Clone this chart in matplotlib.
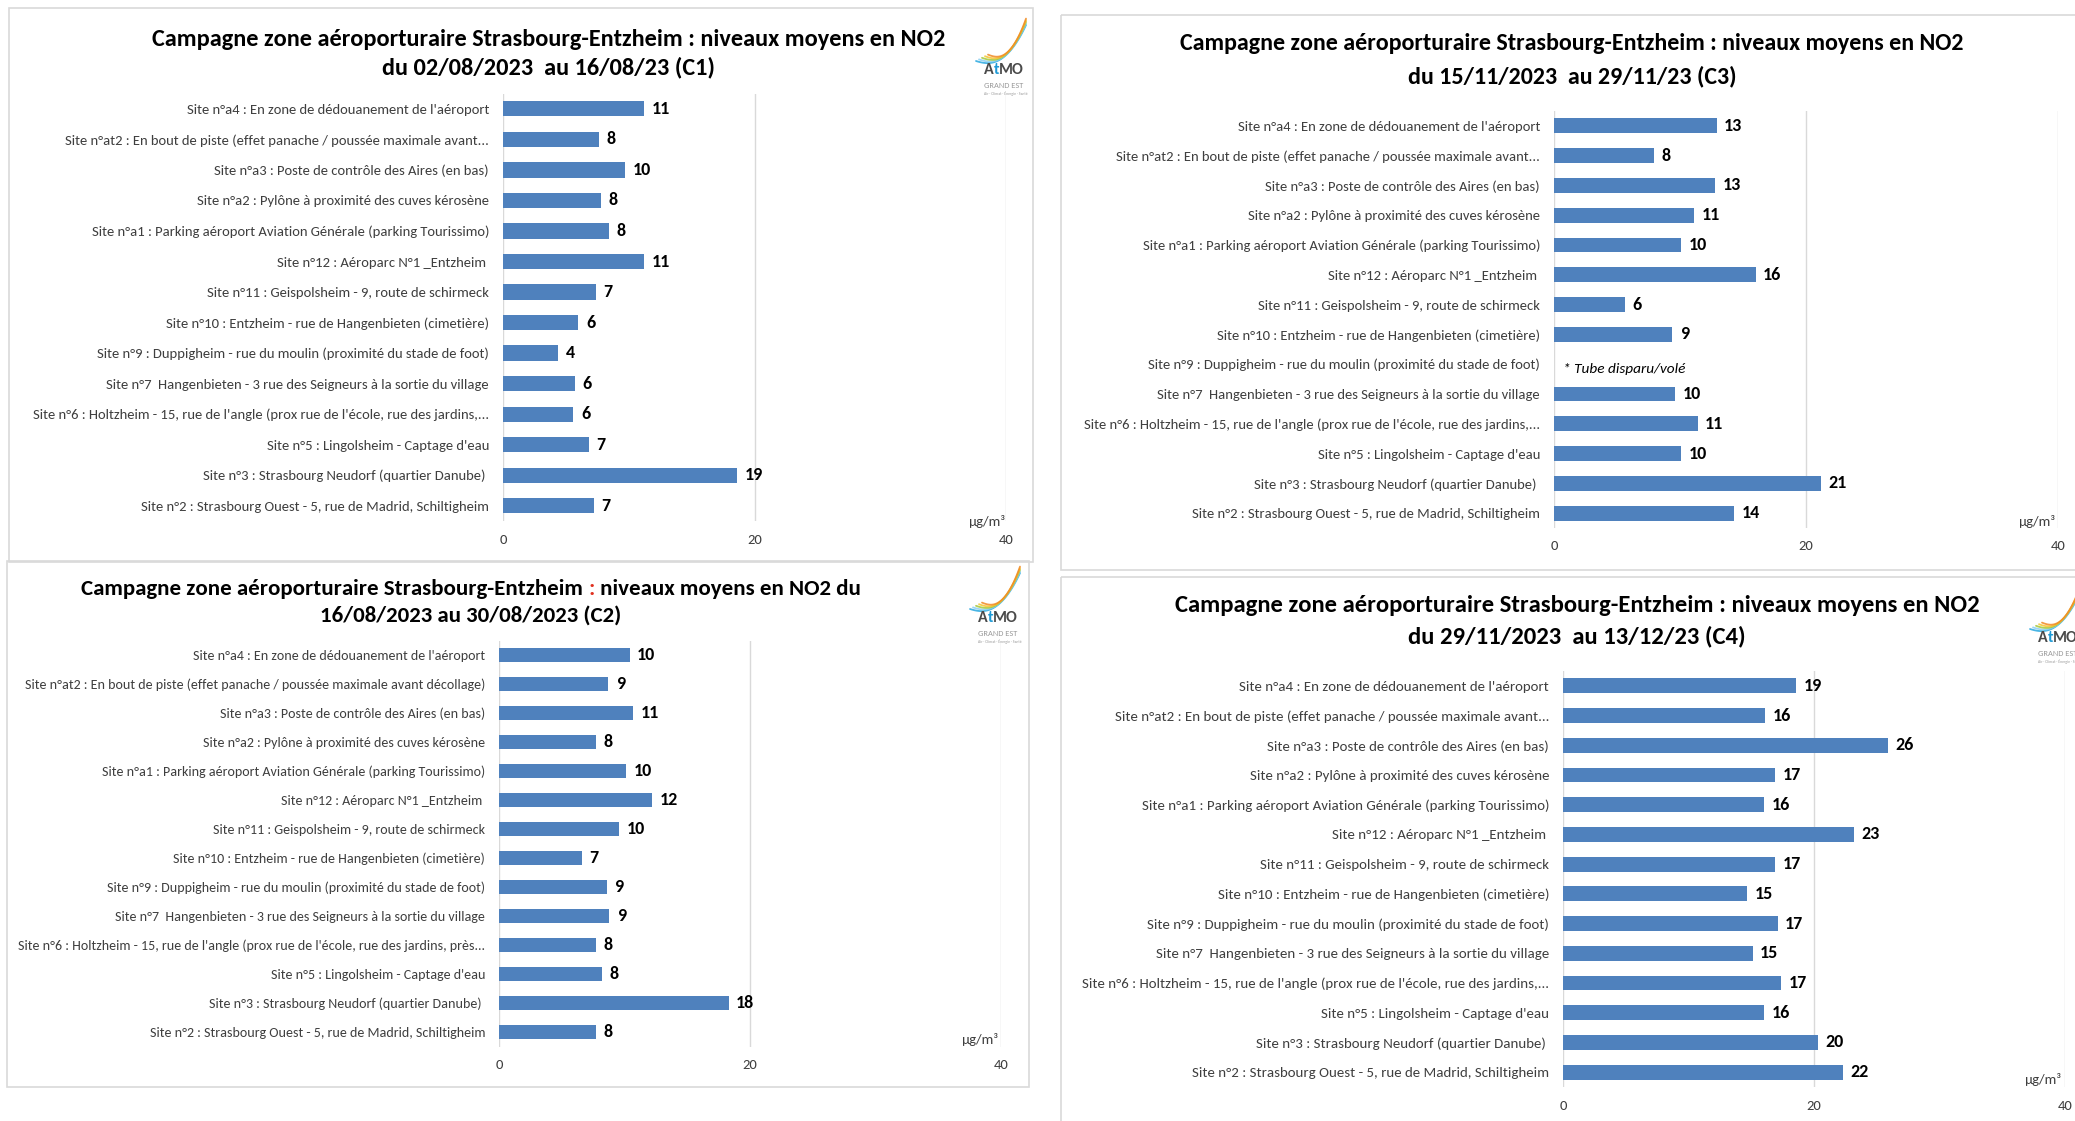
import numpy as np
import matplotlib
matplotlib.use("Agg")
import matplotlib.pyplot as plt
from matplotlib import font_manager
from matplotlib.patches import Rectangle

# FONT
names = {f.name for f in font_manager.fontManager.ttflist}
FONT = next(n for n in ['Carlito', 'Liberation Sans Narrow', 'Liberation Sans', 'DejaVu Sans'] if n in names)
plt.rcParams['font.family'] = [FONT, 'DejaVu Sans']

# DATA
labels = [
    "Site n°a4 : En zone de dédouanement de l'aéroport",
    "Site n°at2 : En bout de piste (effet panache / poussée maximale avant...",
    "Site n°a3 : Poste de contrôle des Aires (en bas)",
    "Site n°a2 : Pylône à proximité des cuves kérosène",
    "Site n°a1 : Parking aéroport Aviation Générale (parking Tourissimo)",
    "Site n°12 : Aéroparc N°1 _Entzheim ",
    "Site n°11 : Geispolsheim - 9, route de schirmeck",
    "Site n°10 : Entzheim - rue de Hangenbieten (cimetière)",
    "Site n°9 : Duppigheim - rue du moulin (proximité du stade de foot)",
    "Site n°7  Hangenbieten - 3 rue des Seigneurs à la sortie du village",
    "Site n°6 : Holtzheim - 15, rue de l'angle (prox rue de l'école, rue des jardins,...",
    "Site n°5 : Lingolsheim - Captage d'eau",
    "Site n°3 : Strasbourg Neudorf (quartier Danube) ",
    "Site n°2 : Strasbourg Ouest - 5, rue de Madrid, Schiltigheim",
]
labels_c2 = list(labels)
labels_c2[1] = "Site n°at2 : En bout de piste (effet panache / poussée maximale avant décollage)"
labels_c2[10] = "Site n°6 : Holtzheim - 15, rue de l'angle (prox rue de l'école, rue des jardins, près..."

c1 = [11.2, 7.6, 9.7, 7.8, 8.4, 11.2, 7.4, 6.0, 4.4, 5.7, 5.6, 6.8, 18.6, 7.2]
c2 = [10.4, 8.7, 10.7, 7.7, 10.1, 12.2, 9.6, 6.6, 8.6, 8.8, 7.7, 8.2, 18.3, 7.7]
c3 = [12.9, 7.9, 12.8, 11.1, 10.1, 16.0, 5.6, 9.4, np.nan, 9.6, 11.4, 10.1, 21.2, 14.3]
c4 = [18.6, 16.1, 25.9, 16.9, 16.0, 23.2, 16.9, 14.7, 17.1, 15.1, 17.4, 16.0, 20.3, 22.3]

missing_note = "* Tube disparu/volé"
unit = "µg/m³"
xticks = [0, 20, 40]

titles = {
    "C1": ["Campagne zone aéroporturaire Strasbourg-Entzheim : niveaux moyens en NO2",
           "du 02/08/2023  au 16/08/23 (C1)"],
    "C2": ["Campagne zone aéroporturaire Strasbourg-Entzheim : niveaux moyens en NO2 du",
           "16/08/2023 au 30/08/2023 (C2)"],
    "C3": ["Campagne zone aéroporturaire Strasbourg-Entzheim : niveaux moyens en NO2",
           "du 15/11/2023  au 29/11/23 (C3)"],
    "C4": ["Campagne zone aéroporturaire Strasbourg-Entzheim : niveaux moyens en NO2",
           "du 29/11/2023  au 13/12/23 (C4)"],
}

# LAYOUT (pixels)
W, H = 2075, 1121
BAR = '#4F81BD'
GRID = '#D9D9D9'
TXT = '#3F3F3F'

panels = [
    dict(name="C1", vals=c1, labs=labels, border=(9, 8, 1033, 562), ax=(503, 1006, 93.6, 521),
         tx=549, ty=(39, 67), ts=17.5, ls=10.55, logo=(984, 70), unit=(987, 522)),
    dict(name="C2", vals=c2, labs=labels_c2, border=(7, 561, 1029, 1087), ax=(499, 1001, 640.5, 1046.6),
         tx=471, ty=(589, 616), ts=16.5, ls=10.1, logo=(978, 618), unit=(980, 1039)),
    dict(name="C3", vals=c3, labs=labels, border=(1061, 15, 2090, 570), ax=(1554, 2058, 111, 528),
         tx=1572, ty=(44, 76), ts=17.3, ls=10.55, logo=None, unit=(2037, 521)),
    dict(name="C4", vals=c4, labs=labels, border=(1061, 577, 2090, 1130), ax=(1563, 2065, 671, 1087),
         tx=1577, ty=(606, 636), ts=17.7, ls=10.7, logo=(2038, 638), unit=(2043, 1080)),
]

fig = plt.figure(figsize=(W / 100, H / 100), dpi=100)
fig.patch.set_facecolor('white')

ov = fig.add_axes([0, 0, 1, 1], zorder=0)
ov.set_xlim(0, W)
ov.set_ylim(H, 0)
ov.axis('off')

renderer = fig.canvas.get_renderer()


def colored_line(x_center, y, pieces, size, weight='bold'):
    # measure full width, then chain pieces left to right
    full = ov.text(0, 0, "".join(p for p, _ in pieces), fontsize=size, fontweight=weight)
    bb = full.get_window_extent(renderer)
    full.remove()
    x0 = x_center - bb.width / 2
    prev = ov.text(x0, y, pieces[0][0], fontsize=size, fontweight=weight, color=pieces[0][1],
                   ha='left', va='center')
    for txt, col in pieces[1:]:
        prev = ov.annotate(txt, xy=(1, 0), xycoords=prev, fontsize=size, fontweight=weight,
                           color=col, ha='left', va='bottom')
    return prev


def draw_logo(x, y):
    # swoosh
    t = np.linspace(0, 1, 60)
    cols = ['#29A8E0', '#8CCFF0', '#A5C83B', '#F5C530', '#F08A24']
    for i, c in enumerate(cols):
        xs = x - 8 + (50 - i * 3) * t + i * 3
        ys = y - 9 - i * 1.6 - 36 * t ** 3 + 5 * np.sin(np.pi * t) * (1 - t)
        ov.plot(xs, ys, color=c, lw=1.3, alpha=0.85, solid_capstyle='round')
    a = ov.text(x, y, "A", fontsize=11.5, fontweight='bold', color='#4A4A4A', ha='left', va='center')
    b = ov.annotate("t", xy=(1, 0), xycoords=a, fontsize=11.5, fontweight='bold', color='#1E9AD6',
                    ha='left', va='bottom')
    ov.annotate("MO", xy=(1, 0), xycoords=b, fontsize=11.5, fontweight='bold', color='#4A4A4A',
                ha='left', va='bottom')
    ov.text(x, y + 15, "GRAND EST", fontsize=6, color='#9A9A9A', ha='left', va='center')
    ov.text(x, y + 24, "Air · Climat · Énergie · Santé", fontsize=2.8, color='#9A9A9A', ha='left', va='center')


for p in panels:
    bx0, by0, bx1, by1 = p['border']
    ov.add_patch(Rectangle((bx0, by0), bx1 - bx0, by1 - by0, fill=False, ec=GRID, lw=1.2))

    line1, line2 = titles[p['name']]
    if p['name'] == "C2":
        colored_line(p['tx'], p['ty'][0],
                     [("Campagne zone aéroporturaire Strasbourg-Entzheim ", 'black'),
                      (":", '#E0301E'),
                      (" niveaux moyens en NO2 du", 'black')], p['ts'])
    else:
        ov.text(p['tx'], p['ty'][0], line1, fontsize=p['ts'], fontweight='bold', ha='center', va='center')
    ov.text(p['tx'], p['ty'][1], line2, fontsize=p['ts'], fontweight='bold', ha='center', va='center')

    if p['logo'] is not None:
        draw_logo(*p['logo'])

    ax0, ax1, ayt, ayb = p['ax']
    ax = fig.add_axes([ax0 / W, 1 - ayb / H, (ax1 - ax0) / W, (ayb - ayt) / H], zorder=1)
    ax.patch.set_alpha(0)
    vals = np.array(p['vals'], dtype=float)
    y = np.arange(len(vals))
    ax.barh(y, np.nan_to_num(vals), height=0.5, color=BAR, zorder=2)
    for yi, v in zip(y, vals):
        if np.isnan(v):
            ax.text(0.7, yi + 0.15, missing_note, fontsize=11, style='italic', color='black',
                    ha='left', va='center')
        else:
            ax.text(v + 0.6, yi, f"{v:.0f}", fontsize=13, fontweight='bold', color='black',
                    ha='left', va='center')
    ax.set_xlim(0, 40)
    ax.set_ylim(len(vals) - 0.5, -0.5)
    ax.set_yticks(y)
    ax.set_yticklabels(p['labs'], fontsize=p['ls'], color=TXT)
    ax.set_xticks(xticks)
    ax.set_xticklabels([str(v) for v in xticks], fontsize=10.5, color=TXT)
    ax.tick_params(axis='both', length=0)
    ax.tick_params(axis='y', pad=10)
    ax.tick_params(axis='x', pad=9)
    ax.grid(axis='x', color=GRID, lw=1, zorder=0)
    ax.set_axisbelow(True)
    for s in ax.spines.values():
        s.set_visible(False)

    ov.text(p['unit'][0], p['unit'][1], unit, fontsize=10.5, color=TXT, ha='center', va='center')

fig.savefig("out.png", dpi=100, facecolor='white')
